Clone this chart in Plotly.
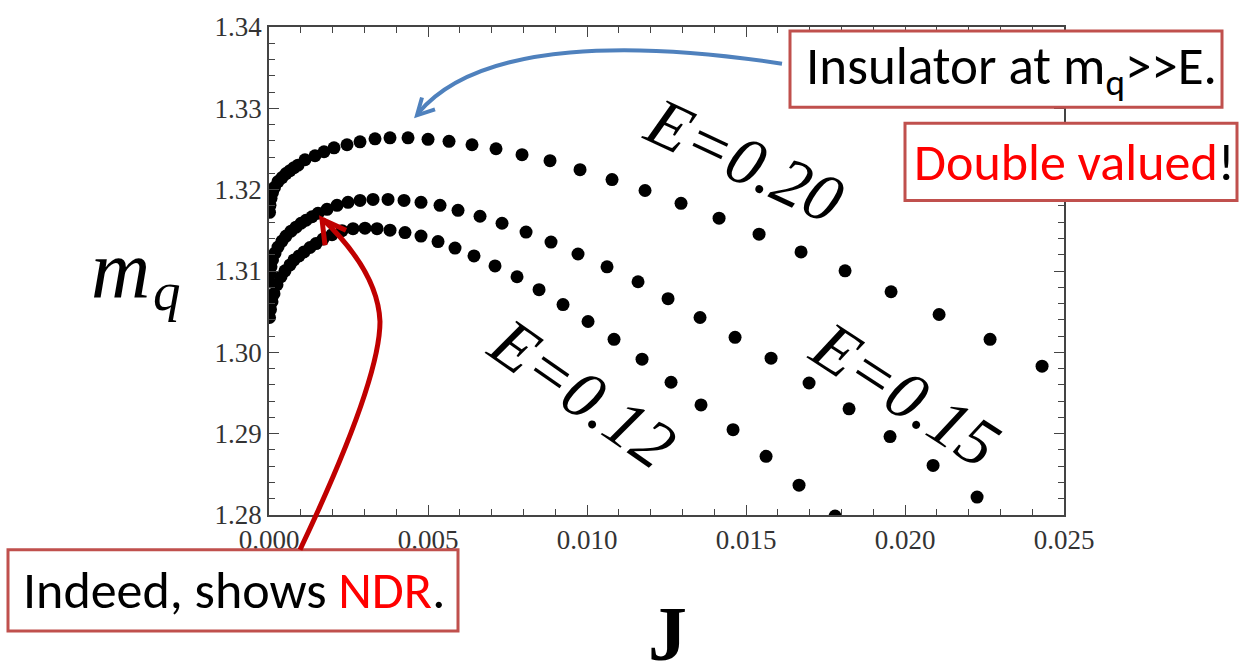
import plotly.graph_objects as go

# ---------------- data ----------------
J_E020 = [0.000016, 0.000030, 0.000063, 0.000110, 0.000173, 0.000283, 0.000409, 0.000535,
          0.000660, 0.000786, 0.000912, 0.001132, 0.001447, 0.001730, 0.002044, 0.002453,
          0.002862, 0.003334, 0.003805, 0.004372, 0.005001, 0.005661, 0.006384, 0.007139,
          0.007957, 0.008837, 0.009781, 0.010787, 0.011825, 0.012957, 0.014153, 0.015411,
          0.016731, 0.018115, 0.019562, 0.021072, 0.022675, 0.024310]
M_E020 = [1.31722, 1.31807, 1.31893, 1.31966, 1.32027, 1.32100, 1.32149, 1.32198,
          1.32234, 1.32271, 1.32301, 1.32368, 1.32417, 1.32466, 1.32515, 1.32552,
          1.32588, 1.32625, 1.32637, 1.32637, 1.32619, 1.32594, 1.32552, 1.32503,
          1.32430, 1.32356, 1.32246, 1.32124, 1.31990, 1.31832, 1.31649, 1.31453,
          1.31234, 1.31002, 1.30745, 1.30465, 1.30160, 1.29830]

J_E015 = [0.000016, 0.000031, 0.000063, 0.000110, 0.000189, 0.000283, 0.000409, 0.000535,
          0.000692, 0.000849, 0.001006, 0.001164, 0.001352, 0.001541, 0.001824, 0.002139,
          0.002485, 0.002862, 0.003271, 0.003743, 0.004246, 0.004780, 0.005378, 0.005944,
          0.006636, 0.007328, 0.008083, 0.008869, 0.009718, 0.010630, 0.011605, 0.012549,
          0.013555, 0.014656, 0.015788, 0.016983, 0.018241, 0.019530, 0.020883, 0.022267]
M_E015 = [1.30868, 1.30965, 1.31051, 1.31136, 1.31221, 1.31295, 1.31368, 1.31429,
          1.31490, 1.31539, 1.31587, 1.31624, 1.31667, 1.31710, 1.31758, 1.31807,
          1.31844, 1.31868, 1.31880, 1.31880, 1.31868, 1.31844, 1.31807, 1.31746,
          1.31673, 1.31587, 1.31478, 1.31356, 1.31209, 1.31051, 1.30868, 1.30660,
          1.30428, 1.30184, 1.29928, 1.29623, 1.29306, 1.28964, 1.28610, 1.28220]

J_E012 = [0.000016, 0.000047, 0.000094, 0.000157, 0.000252, 0.000377, 0.000503, 0.000660,
          0.000786, 0.000944, 0.001101, 0.001289, 0.001478, 0.001698, 0.001981, 0.002296,
          0.002642, 0.003019, 0.003397, 0.003805, 0.004277, 0.004780, 0.005315, 0.005850,
          0.006447, 0.007108, 0.007800, 0.008492, 0.009246, 0.010033, 0.010850, 0.011731,
          0.012643, 0.013586, 0.014593, 0.015631, 0.016668, 0.017801]
M_E012 = [1.30428, 1.30526, 1.30623, 1.30721, 1.30831, 1.30929, 1.31002, 1.31075,
          1.31136, 1.31185, 1.31234, 1.31289, 1.31337, 1.31392, 1.31447, 1.31496,
          1.31520, 1.31526, 1.31520, 1.31502, 1.31472, 1.31429, 1.31362, 1.31282,
          1.31185, 1.31063, 1.30929, 1.30770, 1.30587, 1.30379, 1.30160, 1.29916,
          1.29632, 1.29353, 1.29049, 1.28721, 1.28367, 1.27988]

series_labels = ["E=0.20", "E=0.15", "E=0.12"]
x_range = [0.0, 0.025]
y_range = [1.28, 1.34]

# ---------------- layout helpers ----------------
W, H = 1247, 662
L, R, T, B = 269, 183, 23, 147
PW, PH = W - L - R, H - T - B


def px(x):
    return (x - L) / PW


def py(y):
    return (H - B - y) / PH


fig = go.Figure()
for jj, mm, name in [(J_E020, M_E020, series_labels[0]),
                     (J_E015, M_E015, series_labels[1]),
                     (J_E012, M_E012, series_labels[2])]:
    fig.add_trace(go.Scatter(x=jj, y=mm, mode="markers", name=name,
                             marker=dict(size=13, color="black", line=dict(width=0)),
                             cliponaxis=True, showlegend=False))

axis_common = dict(showline=True, linecolor="#444", linewidth=1.5, mirror="allticks",
                   ticks="inside", ticklen=10, tickwidth=1.3, tickcolor="#444",
                   showgrid=False, zeroline=False,
                   tickfont=dict(family="Liberation Serif, Times New Roman, serif", size=27, color="#333"))

fig.update_xaxes(range=x_range, dtick=0.005, tick0=0, tickformat=".3f",
                 minor=dict(dtick=0.001, ticks="inside", ticklen=6, tickcolor="#444", showgrid=False),
                 **axis_common)
fig.update_yaxes(range=y_range, dtick=0.01, tick0=1.28, tickformat=".2f",
                 minor=dict(dtick=0.002, ticks="inside", ticklen=6, tickcolor="#444", showgrid=False),
                 **axis_common)

serif = "Liberation Serif, Times New Roman, serif"
sans = "Carlito, Lato, sans-serif"
ann = []
# axis titles
ann.append(dict(x=px(120), y=py(267), text="m", font=dict(family=serif, size=82, style="italic", color="black")))
ann.append(dict(x=px(167), y=py(290), text="q", font=dict(family=serif, size=55, style="italic", color="black")))
ann.append(dict(x=px(667), y=py(634), text="<b>J</b>", font=dict(family=serif, size=78, color="black")))
# curve labels
ann.append(dict(x=px(744), y=py(157), text=series_labels[0], textangle=25,
                font=dict(family=serif, size=68, style="italic", color="black")))
ann.append(dict(x=px(582), y=py(392), text=series_labels[2], textangle=35,
                font=dict(family=serif, size=68, style="italic", color="black")))
ann.append(dict(x=px(905), y=py(393), text=series_labels[1], textangle=33,
                font=dict(family=serif, size=68, style="italic", color="black")))
# callout texts
ann.append(dict(x=px(804), y=py(66), xanchor="left", text="Insulator at m<sub>q</sub>&gt;&gt;E.",
                font=dict(family=sans, size=53, color="black")))
ann.append(dict(x=px(912), y=py(159), xanchor="left",
                text="<span style='color:#ff0000'>Double valued</span>!",
                font=dict(family=sans, size=52, color="black")))
ann.append(dict(x=px(21), y=py(591), xanchor="left",
                text="Indeed, shows <span style='color:#ff0000'>NDR</span>.",
                font=dict(family=sans, size=52, color="black")))
for a in ann:
    a.setdefault("xanchor", "center")
    a.update(xref="paper", yref="paper", yanchor="middle", showarrow=False)

shapes = []
box_col = "#C0504D"
for (x0, y0, x1, y1) in [(790, 27, 1222, 104), (905, 120, 1237, 198), (8, 550, 458, 632)]:
    shapes.append(dict(type="rect", xref="paper", yref="paper", x0=px(x0), x1=px(x1),
                       y0=py(y1), y1=py(y0), fillcolor="white",
                       line=dict(color=box_col, width=3), layer="above"))


def path(cmds):
    out = []
    for c in cmds:
        if isinstance(c, str):
            out.append(c)
        else:
            out.append(f"{px(c[0]):.5f},{py(c[1]):.5f}")
    return " ".join(out)


blue = "#4F81BD"
red = "#C00000"
shapes.append(dict(type="path", xref="paper", yref="paper", layer="above",
                   path=path(["M", (782, 60), "C", (640, 38), (480, 35), (418, 110)]),
                   line=dict(color=blue, width=4)))
shapes.append(dict(type="path", xref="paper", yref="paper", layer="above",
                   path=path(["M", (422, 94), "L", (417, 112), "L", (435, 106)]),
                   line=dict(color=blue, width=4)))
shapes.append(dict(type="path", xref="paper", yref="paper", layer="above",
                   path=path(["M", (300, 550), "Q", (380, 380), (380, 320), "Q", (378, 270), (323, 217)]),
                   line=dict(color=red, width=5)))
shapes.append(dict(type="path", xref="paper", yref="paper", layer="above",
                   path=path(["M", (325, 243), "L", (322, 217), "L", (346, 228)]),
                   line=dict(color=red, width=5)))

fig.update_layout(width=W, height=H, margin=dict(l=L, r=R, t=T, b=B, pad=0),
                  plot_bgcolor="white", paper_bgcolor="white",
                  annotations=ann, shapes=shapes, showlegend=False)

fig.write_html("out.html", config={"displayModeBar": False},
               post_script="document.body.style.margin='0';document.body.style.overflow='hidden';")
